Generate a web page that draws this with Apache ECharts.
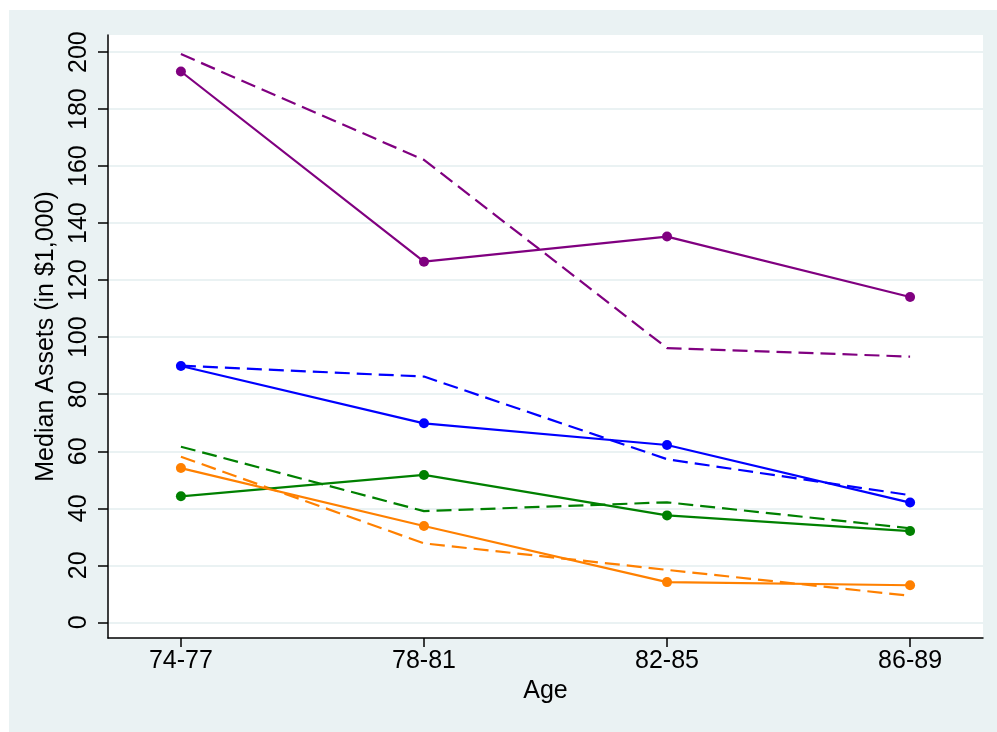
<!DOCTYPE html>
<html>
<head>
<meta charset="utf-8">
<title>Median Assets by Age</title>
<script src="https://cdn.jsdelivr.net/npm/echarts@6/dist/echarts.min.js"></script>
<style>
  html, body { margin: 0; padding: 0; background: #ffffff; }
  #chart { width: 997px; height: 732px; }
</style>
</head>
<body>
<div id="chart"></div>
<script>
// Age groups along the horizontal axis
const ageGroups = ['74-77', '78-81', '82-85', '86-89'];

// Y-axis tick values (in $1,000)
const yTicks = [0, 20, 40, 60, 80, 100, 120, 140, 160, 180, 200];

// Median assets (in $1,000) per age group
const purpleSolid  = [193.2, 126.5, 135.3, 114.1];
const purpleDashed = [199.3, 162.2, 96.2, 93.2];
const blueSolid    = [89.9, 69.8, 62.2, 42.0];
const blueDashed   = [90.0, 86.2, 57.2, 44.6];
const greenSolid   = [44.2, 51.7, 37.5, 32.0];
const greenDashed  = [61.6, 39.0, 42.1, 33.0];
const orangeSolid  = [54.1, 33.8, 14.1, 13.0];
const orangeDashed = [58.1, 27.7, 18.4, 9.3];

const PURPLE = '#800080';
const BLUE = '#0000ff';
const GREEN = '#008000';
const ORANGE = '#ff8000';
const FONT = 'Liberation Sans, Arial, Helvetica, sans-serif';

function pairs(values) {
  return values.map((v, i) => [i, v]);
}

function solid(name, values, color) {
  return {
    name: name,
    type: 'line',
    data: pairs(values),
    symbol: 'circle',
    symbolSize: 10,
    showSymbol: true,
    lineStyle: { color: color, width: 2.2, type: 'solid' },
    itemStyle: { color: color },
    emphasis: { disabled: true },
    z: 3
  };
}

function dashed(name, values, color) {
  return {
    name: name,
    type: 'line',
    data: pairs(values),
    symbol: 'none',
    lineStyle: { color: color, width: 2.2, type: [15, 7] },
    itemStyle: { color: color },
    emphasis: { disabled: true },
    z: 2
  };
}

const chart = echarts.init(document.getElementById('chart'), null, { renderer: 'canvas' });

chart.setOption({
  animation: false,
  backgroundColor: '#ffffff',
  textStyle: { fontFamily: FONT },
  graphic: [{
    type: 'rect',
    z: -10,
    silent: true,
    shape: { x: 9, y: 10, width: 988, height: 722 },
    style: { fill: '#eaf2f3' }
  }],
  grid: {
    left: 108, top: 35, right: 14, bottom: 94,
    show: true,
    backgroundColor: '#ffffff',
    borderWidth: 0
  },
  xAxis: {
    type: 'value',
    min: -0.3,
    max: 3.3,
    name: 'Age',
    nameLocation: 'middle',
    nameGap: 36,
    nameTextStyle: { fontSize: 25, color: '#000', fontFamily: FONT },
    axisLine: { show: true, onZero: false, lineStyle: { color: '#000', width: 1.5 } },
    axisTick: {
      show: true, length: 9, inside: false,
      customValues: [0, 1, 2, 3],
      lineStyle: { color: '#000', width: 1.5 }
    },
    axisLabel: {
      customValues: [0, 1, 2, 3],
      formatter: v => ageGroups[Math.round(v)] || '',
      fontSize: 25, color: '#000', margin: 11, fontFamily: FONT
    },
    splitLine: { show: false }
  },
  yAxis: {
    type: 'value',
    min: -5.5,
    max: 206,
    name: 'Median Assets (in $1,000)',
    nameLocation: 'middle',
    nameGap: 47,
    nameTextStyle: { fontSize: 25, color: '#000', fontFamily: FONT },
    axisLine: { show: true, onZero: false, lineStyle: { color: '#000', width: 1.5 } },
    axisTick: {
      show: true, length: 10, inside: false,
      customValues: yTicks,
      lineStyle: { color: '#000', width: 1.5 }
    },
    axisLabel: {
      customValues: yTicks,
      rotate: 90,
      fontSize: 25, color: '#000', margin: 16, fontFamily: FONT
    },
    splitLine: { show: true, lineStyle: { color: '#eaf2f3', width: 2 } }
  },
  series: [
    dashed('purpleDashed', purpleDashed, PURPLE),
    solid('purpleSolid', purpleSolid, PURPLE),
    dashed('blueDashed', blueDashed, BLUE),
    solid('blueSolid', blueSolid, BLUE),
    dashed('greenDashed', greenDashed, GREEN),
    solid('greenSolid', greenSolid, GREEN),
    dashed('orangeDashed', orangeDashed, ORANGE),
    solid('orangeSolid', orangeSolid, ORANGE)
  ]
});
</script>
</body>
</html>
